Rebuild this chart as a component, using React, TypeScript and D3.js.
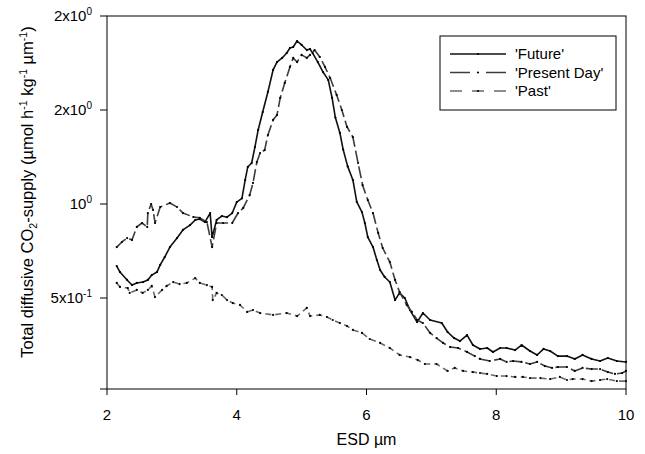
import React from "react";
import * as d3 from "d3";

const futureX = [2.15, 2.20, 2.31, 2.385, 2.46, 2.555, 2.63, 2.69, 2.77, 2.82, 2.89, 2.97, 3.08, 3.17, 3.28, 3.36, 3.43, 3.51, 3.59, 3.62, 3.69, 3.77, 3.85, 3.93, 4.00, 4.08, 4.13, 4.17, 4.23, 4.28, 4.33, 4.40, 4.48, 4.56, 4.62, 4.70, 4.77, 4.82, 4.87, 4.93, 5.00, 5.08, 5.13, 5.17, 5.25, 5.33, 5.41, 5.47, 5.52, 5.59, 5.64, 5.71, 5.79, 5.85, 5.93, 5.975, 6.02, 6.10, 6.16, 6.21, 6.28, 6.36, 6.44, 6.51, 6.59, 6.67, 6.78, 6.87, 6.98, 7.16, 7.25, 7.35, 7.44, 7.55, 7.64, 7.75, 7.86, 7.95, 8.06, 8.16, 8.29, 8.39, 8.52, 8.63, 8.73, 8.83, 8.95, 9.09, 9.21, 9.33, 9.47, 9.60, 9.72, 9.86, 10.0];
const futureY = [0.670, 0.638, 0.596, 0.569, 0.58, 0.585, 0.596, 0.622, 0.638, 0.676, 0.718, 0.771, 0.819, 0.862, 0.888, 0.915, 0.92, 0.904, 0.952, 0.824, 0.915, 0.936, 0.93, 0.952, 1.01, 1.03, 1.128, 1.197, 1.218, 1.303, 1.394, 1.489, 1.596, 1.713, 1.755, 1.777, 1.803, 1.83, 1.835, 1.867, 1.846, 1.819, 1.824, 1.803, 1.755, 1.702, 1.66, 1.564, 1.46, 1.378, 1.29, 1.2, 1.128, 1.011, 0.957, 0.899, 0.824, 0.771, 0.702, 0.649, 0.612, 0.585, 0.489, 0.527, 0.50, 0.436, 0.372, 0.42, 0.383, 0.367, 0.319, 0.287, 0.271, 0.303, 0.25, 0.229, 0.234, 0.213, 0.234, 0.234, 0.223, 0.25, 0.218, 0.197, 0.229, 0.218, 0.191, 0.191, 0.176, 0.197, 0.176, 0.165, 0.181, 0.165, 0.16];

const presentX = [2.15, 2.23, 2.31, 2.385, 2.46, 2.54, 2.62, 2.63, 2.68, 2.71, 2.74, 2.82, 2.97, 3.08, 3.17, 3.33, 3.43, 3.54, 3.62, 3.69, 3.79, 3.93, 4.02, 4.10, 4.20, 4.25, 4.31, 4.36, 4.43, 4.48, 4.56, 4.62, 4.67, 4.74, 4.82, 4.87, 4.93, 5.00, 5.08, 5.13, 5.20, 5.28, 5.36, 5.44, 5.54, 5.62, 5.70, 5.79, 5.87, 5.94, 6.02, 6.10, 6.18, 6.25, 6.36, 6.44, 6.51, 6.62, 6.70, 6.78, 6.87, 6.98, 7.08, 7.18, 7.29, 7.41, 7.55, 7.67, 7.75, 7.90, 8.06, 8.16, 8.26, 8.39, 8.52, 8.63, 8.75, 8.86, 8.95, 9.09, 9.21, 9.33, 9.47, 9.60, 9.72, 9.83, 9.94, 10.0];
const presentY = [0.771, 0.798, 0.819, 0.809, 0.878, 0.899, 0.878, 0.952, 1.0, 0.968, 0.899, 0.984, 1.005, 0.984, 0.952, 0.931, 0.926, 0.904, 0.771, 0.899, 0.899, 0.899, 0.952, 0.979, 1.048, 1.112, 1.223, 1.271, 1.287, 1.367, 1.447, 1.473, 1.564, 1.644, 1.729, 1.777, 1.755, 1.793, 1.777, 1.793, 1.819, 1.782, 1.729, 1.67, 1.58, 1.5, 1.41, 1.356, 1.218, 1.10, 1.021, 0.952, 0.846, 0.766, 0.691, 0.596, 0.532, 0.463, 0.426, 0.383, 0.367, 0.314, 0.287, 0.261, 0.239, 0.234, 0.213, 0.191, 0.176, 0.165, 0.176, 0.16, 0.165, 0.16, 0.149, 0.16, 0.138, 0.128, 0.133, 0.133, 0.112, 0.128, 0.122, 0.122, 0.106, 0.096, 0.101, 0.112];

const pastX = [2.15, 2.20, 2.32, 2.35, 2.46, 2.55, 2.63, 2.69, 2.74, 2.85, 2.92, 3.02, 3.12, 3.23, 3.36, 3.43, 3.54, 3.62, 3.63, 3.69, 3.77, 3.85, 3.94, 4.05, 4.16, 4.25, 4.36, 4.56, 4.77, 4.93, 5.08, 5.13, 5.28, 5.39, 5.48, 5.59, 5.70, 5.79, 5.93, 6.05, 6.21, 6.36, 6.51, 6.67, 6.79, 6.90, 7.08, 7.25, 7.36, 7.49, 7.64, 7.75, 7.86, 8.01, 8.16, 8.29, 8.41, 8.52, 8.68, 8.83, 8.98, 9.09, 9.18, 9.33, 9.47, 9.60, 9.71, 9.86, 10.0];
const pastY = [0.58, 0.559, 0.553, 0.527, 0.543, 0.527, 0.543, 0.564, 0.505, 0.543, 0.564, 0.585, 0.574, 0.58, 0.606, 0.58, 0.569, 0.559, 0.489, 0.527, 0.516, 0.489, 0.473, 0.463, 0.426, 0.436, 0.42, 0.41, 0.42, 0.404, 0.447, 0.404, 0.41, 0.399, 0.383, 0.367, 0.351, 0.33, 0.314, 0.282, 0.261, 0.234, 0.197, 0.186, 0.17, 0.149, 0.149, 0.112, 0.128, 0.112, 0.106, 0.101, 0.096, 0.085, 0.085, 0.080, 0.080, 0.074, 0.074, 0.069, 0.080, 0.064, 0.069, 0.069, 0.058, 0.064, 0.069, 0.058, 0.058];

const xTicks = [2, 4, 6, 8, 10];
const yTickValues = [0.5, 1, 1.5, 2];
const yTickLabels: [string, string][] = [["5x10", "-1"], ["10", "0"], ["2x10", "0"], ["2x10", "0"]];
const seriesNames = ["'Future'", "'Present Day'", "'Past'"];

const W = 645, H = 454;
const left = 107, right = 626, top = 16, bottom = 389;
const FONT = "'Liberation Sans', Arial, Helvetica, sans-serif";

const styles = [
  { stroke: "#111", dash: "none", width: 1.6 },
  { stroke: "#3c3c3c", dash: "12,4", width: 1.6 },
  { stroke: "#6a6a6a", dash: "6,4", width: 1.6 },
];

export default function App() {
  const x = d3.scaleLinear().domain([2, 10]).range([left, right]);
  const y = d3.scaleLinear().domain([0.016, 2]).range([bottom, top]);
  const line = d3.line<[number, number]>().x(d => x(d[0])).y(d => y(d[1]));
  const series = [
    futureX.map((v, i) => [v, futureY[i]] as [number, number]),
    presentX.map((v, i) => [v, presentY[i]] as [number, number]),
    pastX.map((v, i) => [v, pastY[i]] as [number, number]),
  ];
  const lg = { x0: 440, y0: 36, w: 176, h: 74 };
  const rowY = [54, 72.5, 91];
  return (
    <svg width={W} height={H} style={{ display: "block", position: "absolute", left: 0, top: 0 }} fontFamily={FONT}>
      <rect x={0} y={0} width={W} height={H} fill="#fff" />
      {series.map((s, i) => (
        <g key={i}>
          <path d={line(s) || ""} fill="none" stroke={styles[i].stroke} strokeWidth={styles[i].width} strokeDasharray={styles[i].dash} strokeLinejoin="round" />
          {s.map((p, j) => (
            <circle key={j} cx={x(p[0])} cy={y(p[1])} r={1.1} fill="#000" />
          ))}
        </g>
      ))}
      <rect x={left} y={top} width={right - left} height={bottom - top} fill="none" stroke="#000" strokeWidth={1} />
      {[...yTickValues, 0.016].map((v, i) => (
        <line key={i} x1={left - 7} x2={left} y1={y(v)} y2={y(v)} stroke="#000" strokeWidth={1} />
      ))}
      {yTickValues.map((v, i) => (
        <text key={i} x={92} y={y(v) + 5} textAnchor="end" fontSize={15} fill="#000">
          {yTickLabels[i][0]}
          <tspan fontSize={10} dy={-6}>{yTickLabels[i][1]}</tspan>
        </text>
      ))}
      {xTicks.map((v, i) => (
        <g key={i}>
          <line x1={x(v)} x2={x(v)} y1={bottom} y2={bottom + 6} stroke="#000" strokeWidth={1} />
          <text x={x(v)} y={bottom + 31} textAnchor="middle" fontSize={15} fill="#000">{v}</text>
        </g>
      ))}
      <text x={(left + right) / 2} y={445} textAnchor="middle" fontSize={16} fill="#000">ESD µm</text>
      <text transform="translate(33,192) rotate(-90)" textAnchor="middle" fontSize={16.5} fill="#000">
        Total diffusive CO<tspan fontSize={10.5} dy={4}>2</tspan><tspan dy={-4}>-supply (µmol h</tspan>
        <tspan fontSize={10.5} dy={-6}>-1</tspan><tspan dy={6}> kg</tspan>
        <tspan fontSize={10.5} dy={-6}>-1</tspan><tspan dy={6}> µm</tspan>
        <tspan fontSize={10.5} dy={-6}>-1</tspan><tspan dy={6}>)</tspan>
      </text>
      <rect x={lg.x0} y={lg.y0} width={lg.w} height={lg.h} fill="#fff" stroke="#000" strokeWidth={1} />
      {seriesNames.map((n, i) => (
        <g key={i}>
          <line x1={450} x2={506} y1={rowY[i]} y2={rowY[i]} stroke={styles[i].stroke} strokeWidth={1.6}
            strokeDasharray={i === 0 ? "none" : i === 1 ? "20,16" : "12,10"} />
          <circle cx={478} cy={rowY[i]} r={1.1} fill="#000" />
          <text x={515} y={rowY[i] + 5} fontSize={15} fill="#000">{n}</text>
        </g>
      ))}
    </svg>
  );
}
